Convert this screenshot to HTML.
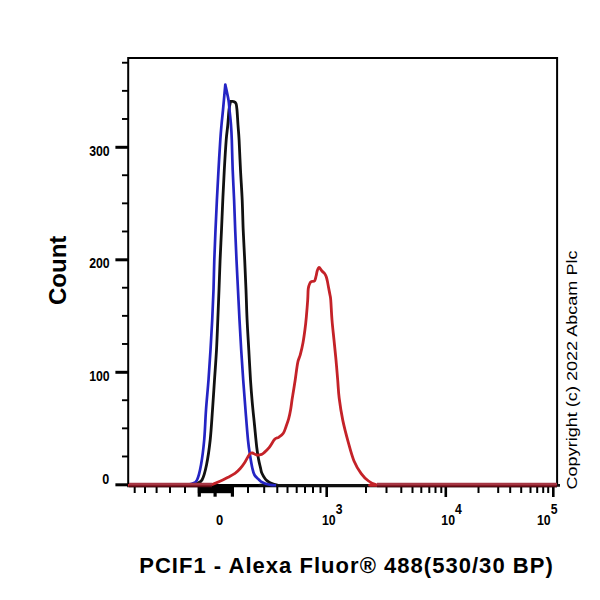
<!DOCTYPE html>
<html><head><meta charset="utf-8">
<style>
html,body{margin:0;padding:0;background:#fff;width:600px;height:600px;overflow:hidden}
svg{position:absolute;left:0;top:0}
text{font-family:"Liberation Sans",sans-serif}
</style></head><body>
<svg width="600" height="600" viewBox="0 0 600 600">

<path d="M128.2 485.4 L128.2 57.9 L557.1 57.9 L557.1 485.4" fill="none" stroke="#000" stroke-width="2"/>
<line x1="127.19999999999999" y1="485.6" x2="557.1" y2="485.6" stroke="#000" stroke-width="3.4"/>
<line x1="115.4" y1="484.80" x2="128.2" y2="484.80" stroke="#000" stroke-width="3"/>
<line x1="122" y1="456.48" x2="128.2" y2="456.48" stroke="#000" stroke-width="1.9"/>
<line x1="122" y1="428.35" x2="128.2" y2="428.35" stroke="#000" stroke-width="1.9"/>
<line x1="122" y1="400.23" x2="128.2" y2="400.23" stroke="#000" stroke-width="1.9"/>
<line x1="115.4" y1="372.30" x2="128.2" y2="372.30" stroke="#000" stroke-width="3"/>
<line x1="122" y1="343.98" x2="128.2" y2="343.98" stroke="#000" stroke-width="1.9"/>
<line x1="122" y1="315.85" x2="128.2" y2="315.85" stroke="#000" stroke-width="1.9"/>
<line x1="122" y1="287.73" x2="128.2" y2="287.73" stroke="#000" stroke-width="1.9"/>
<line x1="115.4" y1="259.80" x2="128.2" y2="259.80" stroke="#000" stroke-width="3"/>
<line x1="122" y1="231.48" x2="128.2" y2="231.48" stroke="#000" stroke-width="1.9"/>
<line x1="122" y1="203.35" x2="128.2" y2="203.35" stroke="#000" stroke-width="1.9"/>
<line x1="122" y1="175.23" x2="128.2" y2="175.23" stroke="#000" stroke-width="1.9"/>
<line x1="115.4" y1="147.30" x2="128.2" y2="147.30" stroke="#000" stroke-width="3"/>
<line x1="122" y1="118.98" x2="128.2" y2="118.98" stroke="#000" stroke-width="1.9"/>
<line x1="122" y1="90.85" x2="128.2" y2="90.85" stroke="#000" stroke-width="1.9"/>
<line x1="122" y1="62.73" x2="128.2" y2="62.73" stroke="#000" stroke-width="1.9"/>
<line x1="134.7" y1="485.4" x2="134.7" y2="493" stroke="#000" stroke-width="2"/>
<line x1="145" y1="485.4" x2="145" y2="493" stroke="#000" stroke-width="2"/>
<line x1="156.6" y1="485.4" x2="156.6" y2="493" stroke="#000" stroke-width="2"/>
<line x1="170" y1="485.4" x2="170" y2="493" stroke="#000" stroke-width="2"/>
<line x1="185" y1="485.4" x2="185" y2="493" stroke="#000" stroke-width="2"/>
<line x1="248" y1="485.4" x2="248" y2="493" stroke="#000" stroke-width="2"/>
<line x1="264.2" y1="485.4" x2="264.2" y2="493" stroke="#000" stroke-width="2"/>
<line x1="277.3" y1="485.4" x2="277.3" y2="493" stroke="#000" stroke-width="2"/>
<line x1="287.5" y1="485.4" x2="287.5" y2="493" stroke="#000" stroke-width="2"/>
<line x1="296.7" y1="485.4" x2="296.7" y2="493" stroke="#000" stroke-width="2"/>
<line x1="305" y1="485.4" x2="305" y2="493" stroke="#000" stroke-width="2"/>
<line x1="313" y1="485.4" x2="313" y2="493" stroke="#000" stroke-width="2"/>
<line x1="320.5" y1="485.4" x2="320.5" y2="493" stroke="#000" stroke-width="2"/>
<line x1="366" y1="485.4" x2="366" y2="493" stroke="#000" stroke-width="2"/>
<line x1="386.5" y1="485.4" x2="386.5" y2="493" stroke="#000" stroke-width="2"/>
<line x1="401.3" y1="485.4" x2="401.3" y2="493" stroke="#000" stroke-width="2"/>
<line x1="412.5" y1="485.4" x2="412.5" y2="493" stroke="#000" stroke-width="2"/>
<line x1="421.3" y1="485.4" x2="421.3" y2="493" stroke="#000" stroke-width="2"/>
<line x1="429.3" y1="485.4" x2="429.3" y2="493" stroke="#000" stroke-width="2"/>
<line x1="435.5" y1="485.4" x2="435.5" y2="493" stroke="#000" stroke-width="2"/>
<line x1="441.3" y1="485.4" x2="441.3" y2="493" stroke="#000" stroke-width="2"/>
<line x1="478.5" y1="485.4" x2="478.5" y2="493" stroke="#000" stroke-width="2"/>
<line x1="498.2" y1="485.4" x2="498.2" y2="493" stroke="#000" stroke-width="2"/>
<line x1="510.2" y1="485.4" x2="510.2" y2="493" stroke="#000" stroke-width="2"/>
<line x1="521.2" y1="485.4" x2="521.2" y2="493" stroke="#000" stroke-width="2"/>
<line x1="530.5" y1="485.4" x2="530.5" y2="493" stroke="#000" stroke-width="2"/>
<line x1="537.2" y1="485.4" x2="537.2" y2="493" stroke="#000" stroke-width="2"/>
<line x1="543.2" y1="485.4" x2="543.2" y2="493" stroke="#000" stroke-width="2"/>
<line x1="548.2" y1="485.4" x2="548.2" y2="493" stroke="#000" stroke-width="2"/>
<line x1="326.7" y1="485.4" x2="326.7" y2="497" stroke="#000" stroke-width="2.6"/>
<line x1="445.8" y1="485.4" x2="445.8" y2="497" stroke="#000" stroke-width="2.6"/>
<line x1="553.3" y1="485.4" x2="553.3" y2="497" stroke="#000" stroke-width="2.6"/>
<rect x="197.8" y="486" width="36.2" height="7.2" fill="#000"/>
<rect x="197.70000000000002" y="485.4" width="3.2" height="11.300000000000011" fill="#000"/>
<rect x="213.5" y="485.4" width="3.2" height="11.300000000000011" fill="#000"/>
<rect x="230.8" y="485.4" width="3.2" height="11.300000000000011" fill="#000"/>
<path d="M180.00 484.60 C181.67 484.57 187.33 484.57 190.00 484.40 C192.67 484.23 194.00 484.33 196.00 483.60 C198.00 482.87 200.25 483.10 202.00 480.00 C203.75 476.90 205.13 471.67 206.50 465.00 C207.87 458.33 209.20 449.17 210.20 440.00 C211.20 430.83 211.78 420.00 212.50 410.00 C213.22 400.00 213.83 390.00 214.50 380.00 C215.17 370.00 215.95 360.00 216.50 350.00 C217.05 340.00 217.38 330.00 217.80 320.00 C218.22 310.00 218.62 300.00 219.00 290.00 C219.38 280.00 219.68 270.00 220.10 260.00 C220.52 250.00 221.05 240.00 221.50 230.00 C221.95 220.00 222.33 210.00 222.80 200.00 C223.27 190.00 223.73 180.00 224.30 170.00 C224.87 160.00 225.62 147.50 226.20 140.00 C226.78 132.50 227.33 130.00 227.80 125.00 C228.27 120.00 228.55 113.92 229.00 110.00 C229.45 106.08 230.25 102.92 230.50 101.50 C231.00 101.50 232.58 101.17 233.50 101.50 C234.42 101.83 235.42 102.08 236.00 103.50 C236.58 104.92 236.67 106.42 237.00 110.00 C237.33 113.58 237.65 120.00 238.00 125.00 C238.35 130.00 238.68 132.50 239.10 140.00 C239.52 147.50 239.98 160.00 240.50 170.00 C241.02 180.00 241.75 190.00 242.20 200.00 C242.65 210.00 242.78 220.00 243.20 230.00 C243.62 240.00 244.23 250.00 244.70 260.00 C245.17 270.00 245.60 280.00 246.00 290.00 C246.40 300.00 246.63 310.00 247.10 320.00 C247.57 330.00 248.23 340.00 248.80 350.00 C249.37 360.00 249.92 371.17 250.50 380.00 C251.08 388.83 251.63 395.50 252.30 403.00 C252.97 410.50 253.77 417.67 254.50 425.00 C255.23 432.33 256.03 441.33 256.70 447.00 C257.37 452.67 257.85 455.45 258.50 459.00 C259.15 462.55 260.05 465.97 260.60 468.30 C261.15 470.63 261.02 471.22 261.80 473.00 C262.58 474.78 264.22 477.55 265.30 479.00 C266.38 480.45 267.18 480.93 268.30 481.70 C269.42 482.47 270.63 483.08 272.00 483.60 C273.37 484.12 274.83 484.52 276.50 484.80 C278.17 485.08 234.75 485.22 282.00 485.30 C329.25 485.38 513.67 485.30 560.00 485.30" fill="none" stroke="#111" stroke-width="2.8" stroke-linejoin="round"/>
<path d="M180.00 484.60 C181.33 484.57 186.00 484.53 188.00 484.40 C190.00 484.27 190.50 484.53 192.00 483.80 C193.50 483.07 195.50 483.13 197.00 480.00 C198.50 476.87 199.80 471.67 201.00 465.00 C202.20 458.33 203.37 449.17 204.20 440.00 C205.03 430.83 205.28 420.00 206.00 410.00 C206.72 400.00 207.75 390.00 208.50 380.00 C209.25 370.00 209.88 360.00 210.50 350.00 C211.12 340.00 211.70 330.00 212.20 320.00 C212.70 310.00 213.15 300.00 213.50 290.00 C213.85 280.00 213.97 270.00 214.30 260.00 C214.63 250.00 215.07 240.00 215.50 230.00 C215.93 220.00 216.40 210.00 216.90 200.00 C217.40 190.00 217.93 180.00 218.50 170.00 C219.07 160.00 219.80 147.50 220.30 140.00 C220.80 132.50 221.05 130.00 221.50 125.00 C221.95 120.00 222.37 116.73 223.00 110.00 C223.63 103.27 224.92 88.83 225.30 84.60 C225.83 87.17 227.80 95.77 228.50 100.00 C229.20 104.23 229.08 105.83 229.50 110.00 C229.92 114.17 230.62 120.00 231.00 125.00 C231.38 130.00 231.52 132.50 231.80 140.00 C232.08 147.50 232.32 160.00 232.70 170.00 C233.08 180.00 233.68 190.00 234.10 200.00 C234.52 210.00 234.80 220.00 235.20 230.00 C235.60 240.00 236.03 250.00 236.50 260.00 C236.97 270.00 237.50 280.00 238.00 290.00 C238.50 300.00 238.97 310.00 239.50 320.00 C240.03 330.00 240.58 340.00 241.20 350.00 C241.82 360.00 242.48 370.00 243.20 380.00 C243.92 390.00 244.70 400.00 245.50 410.00 C246.30 420.00 247.25 432.50 248.00 440.00 C248.75 447.50 249.28 450.33 250.00 455.00 C250.72 459.67 251.55 464.67 252.30 468.00 C253.05 471.33 253.42 473.08 254.50 475.00 C255.58 476.92 257.72 478.38 258.80 479.50 C259.88 480.62 259.97 481.03 261.00 481.70 C262.03 482.37 263.42 482.98 265.00 483.50 C266.58 484.02 268.67 484.50 270.50 484.80 C272.33 485.10 275.08 485.22 276.00 485.30" fill="none" stroke="#2424c4" stroke-width="2.7" stroke-linejoin="round"/>
<path d="M128.00 485.30 C140.00 485.30 186.83 485.33 200.00 485.30 C213.17 485.27 204.92 485.27 207.00 485.10 C209.08 484.93 210.33 484.93 212.50 484.30 C214.67 483.67 217.50 482.43 220.00 481.30 C222.50 480.17 225.00 478.82 227.50 477.50 C230.00 476.18 232.88 474.90 235.00 473.40 C237.12 471.90 238.62 470.32 240.25 468.50 C241.88 466.68 243.44 464.50 244.75 462.50 C246.06 460.50 247.22 457.95 248.10 456.50 C248.97 455.05 249.30 454.38 250.00 453.80 C250.70 453.22 251.13 452.80 252.30 453.00 C253.47 453.20 255.43 454.78 257.00 455.00 C258.57 455.22 260.53 454.68 261.70 454.30 C262.87 453.92 262.73 453.87 264.00 452.70 C265.27 451.53 267.52 449.53 269.30 447.30 C271.08 445.07 273.13 440.97 274.70 439.30 C276.27 437.63 277.27 438.30 278.70 437.30 C280.13 436.30 282.08 435.07 283.30 433.30 C284.52 431.53 285.10 429.13 286.00 426.70 C286.90 424.27 287.92 421.60 288.70 418.70 C289.48 415.80 290.15 412.42 290.70 409.30 C291.25 406.18 291.57 402.88 292.00 400.00 C292.43 397.12 292.77 395.33 293.30 392.00 C293.83 388.67 294.47 384.88 295.20 380.00 C295.93 375.12 296.85 366.92 297.70 362.70 C298.55 358.48 299.42 358.03 300.30 354.70 C301.18 351.37 302.22 346.93 303.00 342.70 C303.78 338.47 304.45 333.53 305.00 329.30 C305.55 325.07 305.85 322.18 306.30 317.30 C306.75 312.42 307.38 304.76 307.70 300.00 C308.02 295.24 307.91 291.50 308.25 288.75 C308.59 286.00 309.19 284.69 309.75 283.50 C310.31 282.31 310.79 282.03 311.60 281.60 C312.41 281.17 313.85 281.83 314.60 280.90 C315.35 279.97 315.66 277.69 316.10 276.00 C316.54 274.31 316.75 272.18 317.25 270.75 C317.75 269.32 318.35 267.40 319.10 267.40 C319.85 267.40 320.81 269.69 321.75 270.75 C322.69 271.81 324.00 272.75 324.75 273.75 C325.50 274.75 325.81 275.50 326.25 276.75 C326.69 278.00 327.02 279.50 327.40 281.25 C327.77 283.00 328.07 284.96 328.50 287.25 C328.93 289.54 329.62 292.88 330.00 295.00 C330.38 297.12 330.42 295.83 330.75 300.00 C331.08 304.17 331.46 313.33 332.00 320.00 C332.54 326.67 333.33 333.33 334.00 340.00 C334.67 346.67 335.38 353.33 336.00 360.00 C336.62 366.67 337.17 373.62 337.70 380.00 C338.23 386.38 338.35 391.57 339.20 398.30 C340.05 405.03 341.28 413.05 342.80 420.40 C344.32 427.75 346.45 435.68 348.30 442.40 C350.15 449.12 351.75 455.50 353.90 460.70 C356.05 465.90 358.77 470.22 361.20 473.60 C363.63 476.98 366.05 479.17 368.50 481.00 C370.95 482.83 373.15 483.88 375.90 484.60 C378.65 485.32 354.98 485.18 385.00 485.30 C415.02 485.42 527.50 485.30 556.00 485.30" fill="none" stroke="#c42228" stroke-width="2.8" stroke-linejoin="round"/>
<line x1="129" y1="484.2" x2="212" y2="484.2" stroke="#a63644" stroke-width="2.8"/>
<line x1="129" y1="486.4" x2="212" y2="486.4" stroke="#5c0a14" stroke-width="1.8"/>
<line x1="377" y1="484.2" x2="557" y2="484.2" stroke="#a63644" stroke-width="2.8"/>
<line x1="377" y1="486.4" x2="557" y2="486.4" stroke="#5c0a14" stroke-width="1.8"/>
<text x="89.2" y="155.8" textLength="20.5" lengthAdjust="spacingAndGlyphs" style="font-weight:bold;font-size:14px">300</text>
<text x="89.2" y="268" textLength="20.5" lengthAdjust="spacingAndGlyphs" style="font-weight:bold;font-size:14px">200</text>
<text x="89.2" y="380.5" textLength="20.5" lengthAdjust="spacingAndGlyphs" style="font-weight:bold;font-size:14px">100</text>
<text x="102.3" y="483.8" textLength="7" lengthAdjust="spacingAndGlyphs" style="font-weight:bold;font-size:14px">0</text>
<text x="216" y="524.8" textLength="7.2" lengthAdjust="spacingAndGlyphs" style="font-weight:bold;font-size:14px">0</text>
<text x="322" y="524.8" textLength="13.7" lengthAdjust="spacingAndGlyphs" style="font-weight:bold;font-size:14px">10</text>
<text x="335.7" y="514.3" textLength="6.8" lengthAdjust="spacingAndGlyphs" style="font-weight:bold;font-size:14px">3</text>
<text x="441.3" y="524.8" textLength="13.7" lengthAdjust="spacingAndGlyphs" style="font-weight:bold;font-size:14px">10</text>
<text x="455.0" y="514.3" textLength="6.8" lengthAdjust="spacingAndGlyphs" style="font-weight:bold;font-size:14px">4</text>
<text x="537" y="524.8" textLength="13.7" lengthAdjust="spacingAndGlyphs" style="font-weight:bold;font-size:14px">10</text>
<text x="550.7" y="514.3" textLength="6.8" lengthAdjust="spacingAndGlyphs" style="font-weight:bold;font-size:14px">5</text>
<text x="139.2" y="572.8" style="font-weight:bold;font-size:22px;letter-spacing:1.03px">PCIF1 - Alexa Fluor® 488(530/30 BP)</text>
<text transform="translate(65.5 305) rotate(-90)" style="font-weight:bold;font-size:24px">Count</text>
<text transform="translate(577.4 489.5) rotate(-90)" textLength="239" lengthAdjust="spacingAndGlyphs" style="font-size:14px">Copyright (c) 2022 Abcam Plc</text>
</svg></body></html>
